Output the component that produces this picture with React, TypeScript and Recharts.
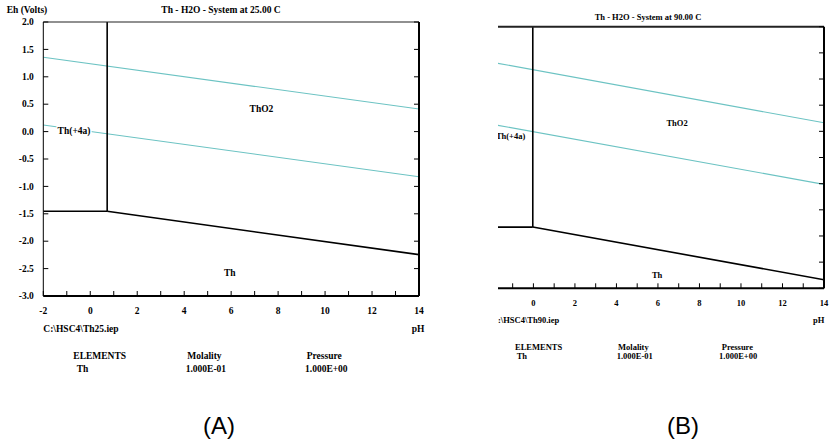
import React from "react";
import { LineChart, Line, XAxis, YAxis, ReferenceDot } from "recharts";

type Pt = { ph: number; eh: number };
type RegionLabel = { text: string; ph: number; eh: number; box?: boolean };

const phTicks = [-2, -1, 0, 1, 2, 3, 4, 5, 6, 7, 8, 9, 10, 11, 12, 13, 14];
const ehTicks = [-3, -2.5, -2, -1.5, -1, -0.5, 0, 0.5, 1, 1.5, 2];

// (A) Th - H2O at 25 C
const th25IonOxide: Pt[] = [{ ph: 0.72, eh: 2.0 }, { ph: 0.72, eh: -1.454 }];
const th25IonMetal: Pt[] = [{ ph: -2, eh: -1.454 }, { ph: 0.72, eh: -1.454 }];
const th25OxideMetal: Pt[] = [{ ph: 0.72, eh: -1.454 }, { ph: 14, eh: -2.246 }];
const th25WaterUpper: Pt[] = [{ ph: -2, eh: 1.356 }, { ph: 14, eh: 0.412 }];
const th25WaterLower: Pt[] = [{ ph: -2, eh: 0.12 }, { ph: 14, eh: -0.823 }];
const th25Labels: RegionLabel[] = [
  { text: "ThO2", ph: 7.29, eh: 0.41 },
  { text: "Th(+4a)", ph: -0.69, eh: 0.024, box: true },
  { text: "Th", ph: 5.94, eh: -2.585 },
];

// (B) Th - H2O at 90 C
const th90IonOxide: Pt[] = [{ ph: -0.03, eh: 2.0 }, { ph: -0.03, eh: -1.83 }];
const th90IonMetal: Pt[] = [{ ph: -2, eh: -1.83 }, { ph: -0.03, eh: -1.83 }];
const th90OxideMetal: Pt[] = [{ ph: -0.03, eh: -1.83 }, { ph: 14, eh: -2.836 }];
const th90WaterUpper: Pt[] = [{ ph: -2, eh: 1.321 }, { ph: 14, eh: 0.164 }];
const th90WaterLower: Pt[] = [{ ph: -2, eh: 0.136 }, { ph: 14, eh: -1.013 }];
const th90Labels: RegionLabel[] = [
  { text: "ThO2", ph: 6.92, eh: 0.16 },
  { text: "Th(+4a)", ph: -1.1, eh: -0.083, box: true },
  { text: "Th", ph: 5.96, eh: -2.75 },
];

const SERIF = "'Liberation Serif', 'Times New Roman', serif";
const CYAN = "#6cc3c3";

const bold = (fs: number): React.CSSProperties => ({
  fontFamily: SERIF,
  fontWeight: 700,
  fontSize: fs,
  fill: "#000",
});

function bottomTick(fs: number) {
  return (p: any) => {
    const v = p.payload.value;
    return (
      <g>
        <line x1={p.x} x2={p.x} y1={p.y} y2={p.y - 5} stroke="#000" />
        {v % 2 === 0 ? (
          <text x={p.x} y={p.y + 18} textAnchor="middle" style={bold(fs)}>
            {v}
          </text>
        ) : null}
      </g>
    );
  };
}

const topTick = (p: any) => (
  <line x1={p.x} x2={p.x} y1={p.y} y2={p.y + 5} stroke="#000" />
);

function leftTick(fs: number) {
  return (p: any) => (
    <g>
      <line x1={p.x} x2={p.x + 5} y1={p.y} y2={p.y} stroke="#000" />
      <text x={p.x - 9.5} y={p.y} dy="0.34em" textAnchor="end" style={bold(fs)}>
        {Number(p.payload.value).toFixed(1)}
      </text>
    </g>
  );
}

const rightTick = (p: any) => (
  <line x1={p.x} x2={p.x - 5} y1={p.y} y2={p.y} stroke="#000" />
);

function regionShape(text: string, fs: number, box?: boolean) {
  return (p: any) => {
    const w = text.length * fs * 0.5 + 2;
    return (
      <g>
        {box ? (
          <rect x={p.cx - w / 2} y={p.cy - fs / 2} width={w} height={fs} fill="#fff" />
        ) : null}
        <text x={p.cx} y={p.cy} dy="0.34em" textAnchor="middle" style={bold(fs)}>
          {text}
        </text>
      </g>
    );
  };
}

type Series = { ion: Pt[]; ionMetal: Pt[]; oxideMetal: Pt[]; upper: Pt[]; lower: Pt[] };

// axis bands: top 10, bottom 30, left 40, right 5 — margins make up the rest
function Diagram(props: {
  width: number;
  height: number;
  margin: { top: number; right: number; bottom: number; left: number };
  fs: number;
  topStroke: number;
  showLeft: boolean;
  series: Series;
  labels: RegionLabel[];
}) {
  const { width, height, margin, fs, topStroke, showLeft, series, labels } = props;
  const frame = { stroke: "#000", strokeWidth: 2 };
  return (
    <LineChart width={width} height={height} margin={margin}>
      <XAxis
        xAxisId={0}
        dataKey="ph"
        type="number"
        domain={[-2, 14]}
        ticks={phTicks}
        interval={0}
        height={30}
        tickSize={0}
        tickMargin={0}
        tickLine={false}
        axisLine={frame}
        tick={bottomTick(fs)}
        allowDataOverflow
      />
      <XAxis
        xAxisId="top"
        orientation="top"
        type="number"
        domain={[-2, 14]}
        ticks={phTicks}
        interval={0}
        height={10}
        tickSize={0}
        tickMargin={0}
        tickLine={false}
        axisLine={{ stroke: "#222", strokeWidth: topStroke }}
        tick={topTick}
        allowDataOverflow
      />
      <YAxis
        yAxisId={0}
        type="number"
        domain={[-3, 2]}
        ticks={ehTicks}
        interval={0}
        width={40}
        tickSize={0}
        tickMargin={0}
        tickLine={false}
        axisLine={showLeft ? { stroke: "#000", strokeWidth: 1 } : false}
        tick={showLeft ? leftTick(fs) : false}
        allowDataOverflow
      />
      <YAxis
        yAxisId="right"
        orientation="right"
        type="number"
        domain={[-3, 2]}
        ticks={ehTicks}
        interval={0}
        width={5}
        tickSize={0}
        tickMargin={0}
        tickLine={false}
        axisLine={frame}
        tick={rightTick}
        allowDataOverflow
      />
      <Line data={series.upper} dataKey="eh" stroke={CYAN} strokeWidth={1.1} dot={false} isAnimationActive={false} />
      <Line data={series.lower} dataKey="eh" stroke={CYAN} strokeWidth={1.1} dot={false} isAnimationActive={false} />
      <Line data={series.ion} dataKey="eh" stroke="#000" strokeWidth={1.6} dot={false} isAnimationActive={false} />
      <Line data={series.ionMetal} dataKey="eh" stroke="#000" strokeWidth={1.6} dot={false} isAnimationActive={false} />
      <Line data={series.oxideMetal} dataKey="eh" stroke="#000" strokeWidth={1.6} dot={false} isAnimationActive={false} />
      {labels.map((l) => (
        <ReferenceDot
          key={l.text}
          x={l.ph}
          y={l.eh}
          r={1}
          shape={regionShape(l.text, fs, l.box)}
        />
      ))}
    </LineChart>
  );
}

type Note = { text: string; x: number; y: number; anchor?: "start" | "middle" | "end" };

const notesA: Note[] = [
  { text: "Eh (Volts)", x: 6.7, y: 12.5 },
  { text: "Th - H2O - System at 25.00 C", x: 221, y: 12.5, anchor: "middle" },
  { text: "C:\\HSC4\\Th25.iep", x: 43.3, y: 332 },
  { text: "pH", x: 411.7, y: 332 },
  { text: "ELEMENTS", x: 73.3, y: 359 },
  { text: "Th", x: 76.7, y: 372 },
  { text: "Molality", x: 187.3, y: 359 },
  { text: "1.000E-01", x: 185.7, y: 372 },
  { text: "Pressure", x: 306.7, y: 359 },
  { text: "1.000E+00", x: 305, y: 372 },
];

const notesB: Note[] = [
  { text: "Th - H2O - System at 90.00 C", x: 208, y: 19.5, anchor: "middle" },
  { text: "C:\\HSC4\\Th90.iep", x: 51.9, y: 323 },
  { text: "pH", x: 373, y: 323 },
  { text: "ELEMENTS", x: 75, y: 350 },
  { text: "Th", x: 76.7, y: 358.5 },
  { text: "Molality", x: 178, y: 350 },
  { text: "1.000E-01", x: 176.7, y: 358.5 },
  { text: "Pressure", x: 281.7, y: 350 },
  { text: "1.000E+00", x: 279, y: 358.5 },
];

function Notes({ notes, fs, tag, tagX }: { notes: Note[]; fs: number; tag: string; tagX: number }) {
  return (
    <svg
      width={440}
      height={440}
      style={{ position: "absolute", left: 0, top: 0, pointerEvents: "none" }}
    >
      {notes.map((n) => (
        <text key={n.text + n.x} x={n.x} y={n.y} textAnchor={n.anchor ?? "start"} style={bold(fs)}>
          {n.text}
        </text>
      ))}
      <text
        x={tagX}
        y={434}
        textAnchor="middle"
        style={{ fontFamily: "'Liberation Sans', Arial, sans-serif", fontSize: 24, fill: "#000" }}
      >
        {tag}
      </text>
    </svg>
  );
}

export default function App() {
  return (
    <div
      style={{
        position: "absolute",
        left: 0,
        top: 0,
        width: 831,
        height: 440,
        background: "#fff",
        overflow: "hidden",
      }}
    >
      <div style={{ position: "absolute", left: 0, top: 0, width: 440, height: 440 }}>
        <Diagram
          width={440}
          height={330}
          margin={{ top: 12, right: 16, bottom: 4, left: 3.3 }}
          fs={9.5}
          topStroke={1.2}
          showLeft
          series={{
            ion: th25IonOxide,
            ionMetal: th25IonMetal,
            oxideMetal: th25OxideMetal,
            upper: th25WaterUpper,
            lower: th25WaterLower,
          }}
          labels={th25Labels}
        />
        <Notes notes={notesA} fs={9.5} tag="(A)" tagX={219} />
      </div>
      {/* panel B is cropped on its left side in the original figure */}
      <div style={{ position: "absolute", left: 498, top: 0, width: 333, height: 440, overflow: "hidden" }}>
        <div style={{ position: "absolute", left: -58, top: 0, width: 440, height: 440 }}>
          <Diagram
            width={391}
            height={330}
            margin={{ top: 16.7, right: 2, bottom: 11.7, left: 11.9 }}
            fs={8.5}
            topStroke={2}
            showLeft={false}
            series={{
              ion: th90IonOxide,
              ionMetal: th90IonMetal,
              oxideMetal: th90OxideMetal,
              upper: th90WaterUpper,
              lower: th90WaterLower,
            }}
            labels={th90Labels}
          />
          <Notes notes={notesB} fs={8.5} tag="(B)" tagX={243} />
        </div>
      </div>
    </div>
  );
}
